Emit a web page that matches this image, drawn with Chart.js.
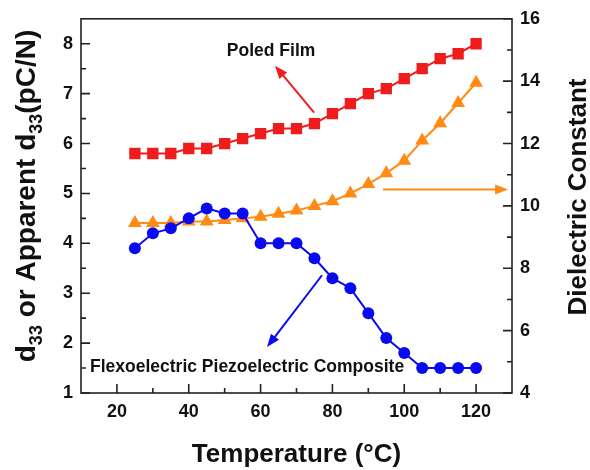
<!DOCTYPE html>
<html>
<head>
<meta charset="utf-8">
<script src="https://cdn.jsdelivr.net/npm/chart.js@4.4.0/dist/chart.umd.min.js"></script>
<style>
  html, body { margin: 0; padding: 0; background: #fff; }
  #wrap { width: 590px; height: 470px; }
</style>
</head>
<body>
<div id="wrap"><canvas id="chart" width="590" height="470"></canvas></div>
<script>
// temperatures (°C)
const temps = [25, 30, 35, 40, 45, 50, 55, 60, 65, 70, 75, 80, 85, 90, 95, 100, 105, 110, 115, 120];
// d33 of poled film (pC/N), left axis
const poledFilm = [5.8, 5.8, 5.8, 5.9, 5.9, 6.0, 6.1, 6.2, 6.3, 6.3, 6.4, 6.6, 6.8, 7.0, 7.1, 7.3, 7.5, 7.7, 7.8, 8.0];
// apparent d33 of flexoelectric composite (pC/N), left axis
const composite = [3.9, 4.2, 4.3, 4.5, 4.7, 4.6, 4.6, 4.0, 4.0, 4.0, 3.7, 3.3, 3.1, 2.6, 2.1, 1.8, 1.5, 1.5, 1.5, 1.5];
// dielectric constant, right axis
const dielectric = [9.45, 9.45, 9.45, 9.5, 9.5, 9.55, 9.6, 9.65, 9.75, 9.85, 10.0, 10.15, 10.4, 10.7, 11.05, 11.45, 12.1, 12.65, 13.3, 13.95];

const xTicks = [20, 40, 60, 80, 100, 120];
const xMinor = [30, 50, 70, 90, 110];
const leftTicks = [1, 2, 3, 4, 5, 6, 7, 8];
const leftMinor = [1.5, 2.5, 3.5, 4.5, 5.5, 6.5, 7.5];
const rightTicks = [4, 6, 8, 10, 12, 14, 16];
const rightMinor = [5, 7, 9, 11, 13, 15];

const RED = '#ee1c1c';
const BLUE = '#0a0af0';
const ORANGE = '#ff8a14';
const FONT = "'Liberation Sans', Arial, sans-serif";

// annotations in data coordinates (x, left-axis y)
const arrows = [
  { color: RED, from: [74.9, 6.62], to: [64.0, 7.56] },
  { color: BLUE, from: [77.1, 3.36], to: [61.8, 1.92] },
  { color: ORANGE, from: [94.1, 5.08], to: [128.9, 5.08] }
];
const notes = [
  { text: 'Poled Film', at: [50.6, 7.86] },
  { text: 'Flexoelectric Piezoelectric Composite', at: [12.5, 1.52] }
];

const pts = (ys) => temps.map((t, i) => ({ x: t, y: ys[i] }));

function arrow(ctx, x1, y1, x2, y2, color) {
  const a = Math.atan2(y2 - y1, x2 - x1);
  const hl = 13, hw = 5;
  ctx.save();
  ctx.strokeStyle = color;
  ctx.fillStyle = color;
  ctx.lineWidth = 2;
  ctx.beginPath();
  ctx.moveTo(x1, y1);
  ctx.lineTo(x2 - Math.cos(a) * hl * 0.8, y2 - Math.sin(a) * hl * 0.8);
  ctx.stroke();
  ctx.beginPath();
  ctx.moveTo(x2, y2);
  ctx.lineTo(x2 - Math.cos(a) * hl - Math.sin(a) * hw, y2 - Math.sin(a) * hl + Math.cos(a) * hw);
  ctx.lineTo(x2 - Math.cos(a) * hl + Math.sin(a) * hw, y2 - Math.sin(a) * hl - Math.cos(a) * hw);
  ctx.closePath();
  ctx.fill();
  ctx.restore();
}

const decor = {
  id: 'decor',
  afterDraw(chart) {
    const ctx = chart.ctx;
    const { left, right, top, bottom } = chart.chartArea;
    const sx = chart.scales.x, sy = chart.scales.y, sy1 = chart.scales.y1;

    ctx.save();
    ctx.strokeStyle = '#222';
    ctx.lineWidth = 1.6;
    ctx.strokeRect(left, top, right - left, bottom - top);

    // inward ticks
    ctx.beginPath();
    xTicks.forEach(v => { const p = sx.getPixelForValue(v); ctx.moveTo(p, bottom); ctx.lineTo(p, bottom - 9); });
    xMinor.forEach(v => { const p = sx.getPixelForValue(v); ctx.moveTo(p, bottom); ctx.lineTo(p, bottom - 5); });
    leftTicks.forEach(v => { const p = sy.getPixelForValue(v); ctx.moveTo(left, p); ctx.lineTo(left + 9, p); });
    leftMinor.forEach(v => { const p = sy.getPixelForValue(v); ctx.moveTo(left, p); ctx.lineTo(left + 5, p); });
    rightTicks.forEach(v => { const p = sy1.getPixelForValue(v); ctx.moveTo(right, p); ctx.lineTo(right - 9, p); });
    rightMinor.forEach(v => { const p = sy1.getPixelForValue(v); ctx.moveTo(right, p); ctx.lineTo(right - 5, p); });
    ctx.stroke();

    // arrows and labels
    arrows.forEach(a => arrow(ctx,
      sx.getPixelForValue(a.from[0]), sy.getPixelForValue(a.from[1]),
      sx.getPixelForValue(a.to[0]), sy.getPixelForValue(a.to[1]), a.color));

    ctx.fillStyle = '#111';
    ctx.font = 'bold 17.5px ' + FONT;
    ctx.textAlign = 'left';
    ctx.textBaseline = 'middle';
    notes.forEach(n => ctx.fillText(n.text, sx.getPixelForValue(n.at[0]), sy.getPixelForValue(n.at[1])));

    // x title
    ctx.textBaseline = 'alphabetic';
    ctx.textAlign = 'center';
    ctx.font = 'bold 26px ' + FONT;
    ctx.fillText('Temperature (°C)', (left + right) / 2, 462);

    // right title, reading bottom to top
    ctx.save();
    ctx.translate(586, 197);
    ctx.rotate(-Math.PI / 2);
    ctx.fillText('Dielectric Constant', 0, 0);
    ctx.restore();

    // left title with subscripts
    const big = 'bold 28px ' + FONT, small = 'bold 18px ' + FONT;
    const parts = [['d', big, 0], ['33', small, 7], [' or Apparent d', big, 0], ['33', small, 7], ['(pC/N)', big, 0]];
    let total = 0;
    parts.forEach(p => { ctx.font = p[1]; total += ctx.measureText(p[0]).width; });
    ctx.save();
    ctx.translate(35, 196);
    ctx.rotate(-Math.PI / 2);
    ctx.textAlign = 'left';
    let cx = -total / 2;
    parts.forEach(p => { ctx.font = p[1]; ctx.fillText(p[0], cx, p[2]); cx += ctx.measureText(p[0]).width; });
    ctx.restore();

    ctx.restore();
  }
};

const tickFont = { family: FONT, size: 18, weight: 'bold' };

new Chart(document.getElementById('chart'), {
  type: 'line',
  data: {
    datasets: [
      {
        label: 'Poled Film',
        data: pts(poledFilm),
        yAxisID: 'y',
        borderColor: RED,
        backgroundColor: RED,
        pointStyle: 'rect',
        pointRadius: 8,
        pointBorderWidth: 0,
        borderWidth: 2
      },
      {
        label: 'Flexoelectric Piezoelectric Composite',
        data: pts(composite),
        yAxisID: 'y',
        borderColor: BLUE,
        backgroundColor: BLUE,
        pointStyle: 'circle',
        pointRadius: 6,
        pointBorderWidth: 0,
        borderWidth: 2
      },
      {
        label: 'Dielectric Constant',
        data: pts(dielectric),
        yAxisID: 'y1',
        borderColor: ORANGE,
        backgroundColor: ORANGE,
        pointStyle: 'triangle',
        pointRadius: 8,
        pointBorderWidth: 0,
        borderWidth: 2
      }
    ]
  },
  options: {
    responsive: false,
    animation: false,
    devicePixelRatio: 1,
    layout: { padding: { top: 18, left: 0, right: 0, bottom: 0 } },
    plugins: { legend: { display: false }, tooltip: { enabled: false } },
    elements: { line: { tension: 0 } },
    scales: {
      x: {
        type: 'linear',
        min: 10, max: 130,
        grid: { display: false, drawTicks: false },
        border: { display: false },
        afterBuildTicks: s => { s.ticks = xTicks.map(v => ({ value: v })); },
        afterFit: s => { s.height = 77; },
        ticks: { font: tickFont, color: '#111', padding: 8, maxRotation: 0 }
      },
      y: {
        position: 'left',
        min: 1, max: 8.5,
        grid: { display: false, drawTicks: false },
        border: { display: false },
        afterBuildTicks: s => { s.ticks = leftTicks.map(v => ({ value: v })); },
        afterFit: s => { s.width = 81; },
        ticks: { font: tickFont, color: '#111', padding: 8 }
      },
      y1: {
        position: 'right',
        min: 4, max: 16,
        grid: { display: false, drawTicks: false },
        border: { display: false },
        afterBuildTicks: s => { s.ticks = rightTicks.map(v => ({ value: v })); },
        afterFit: s => { s.width = 78; },
        ticks: { font: tickFont, color: '#111', padding: 8 }
      }
    }
  },
  plugins: [decor]
});
</script>
</body>
</html>
